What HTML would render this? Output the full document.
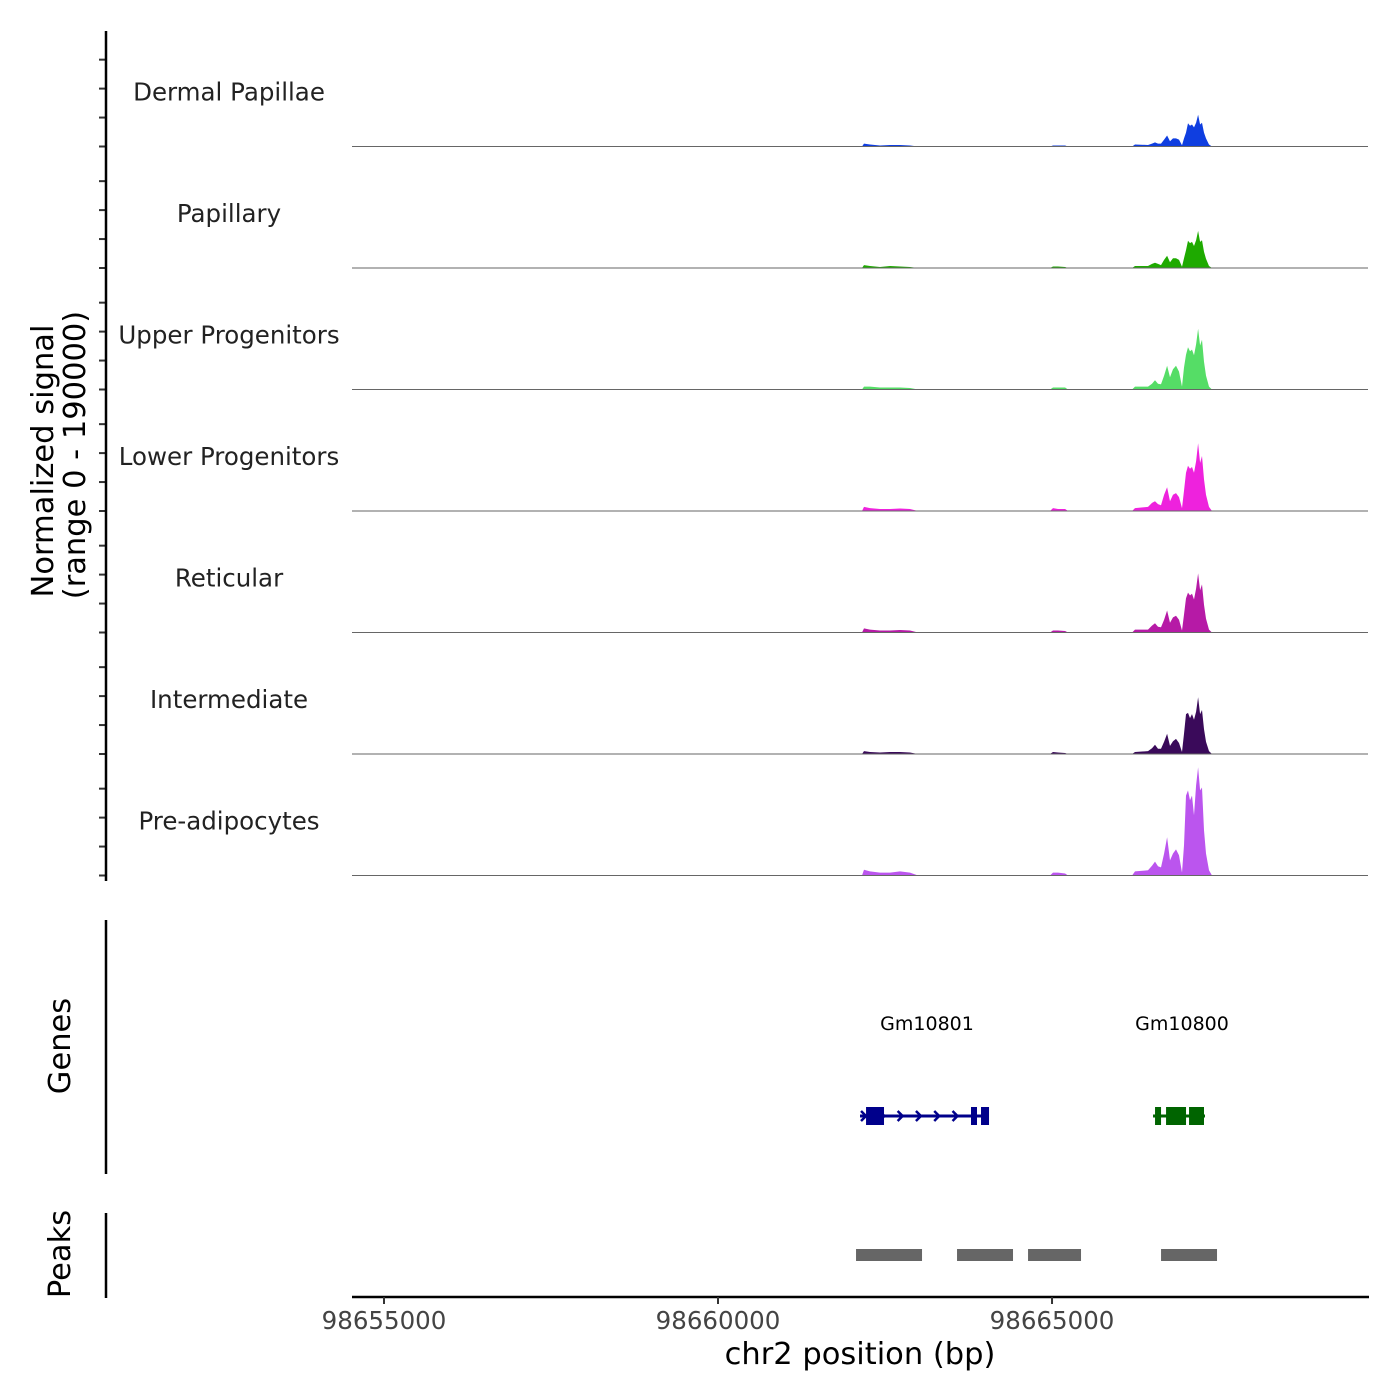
<!DOCTYPE html>
<html><head><meta charset="utf-8">
<style>
html,body{margin:0;padding:0;background:#fff;width:1400px;height:1400px;overflow:hidden}
svg text{font-family:"DejaVu Sans","Liberation Sans",sans-serif}
</style></head>
<body>
<svg id="chart" width="1400" height="1400" viewBox="0 0 1400 1400" xmlns="http://www.w3.org/2000/svg">
<rect width="1400" height="1400" fill="#fff"/>
<g id="tracks"></g>
<g id="axes"></g>
</svg>
<script>
// ---- data ----
const trackNames = ["Dermal Papillae","Papillary","Upper Progenitors","Lower Progenitors","Reticular","Intermediate","Pre-adipocytes"];
const trackColors = ["#0f3ee0","#1eaa00","#55dd66","#ee22dd","#b61aa6","#3a0a5a","#bb55ee"];
const positions = [98662156,98662186,98662275,98662425,98662575,98662725,98662874,98662994,
 98664970,98665015,98665090,98665195,98665239,
 98666198,98666242,98666437,98666497,98666542,98666587,98666632,98666677,98666722,98666766,98666811,98666856,98666901,98666946,98666976,98667006,98667036,98667066,98667096,98667126,98667156,98667186,98667216,98667245,98667275,98667305,98667350,98667395];
// signal values in thousands
const sigDermal = [0,5,3.5,1.7,2.6,2.6,1.7,0, 0,1.7,1.7,1.7,0, 0,3.5,2.6,5,7,5,5,12,19,9,14,14,12,2,14,24,40,36,38,33,41,55,38,41,24,14,3.5,0];
const sigPapillary = [0,5,3.5,1.7,3.5,2.6,1.7,0, 0,2.6,2.6,1.7,0, 0,3.5,3.5,7,9,7,5,14,21,10,17,17,14,2,17,31,47,43,45,38,48,64,45,48,28,16,3.5,0];
const sigUpper = [0,5,5,3.5,3.5,3.5,2.6,0, 0,3.5,3.5,3.5,0, 0,5,5,10,16,10,9,24,41,21,35,41,31,5,38,60,73,66,69,59,78,105,76,86,48,24,5,0];
const sigLower = [0,7,5,3.5,3.5,4.3,3.5,0, 0,5,3.5,3.5,0, 0,5,7,14,17,12,10,28,41,17,28,31,24,5,35,66,78,73,76,66,86,117,83,95,55,28,7,0];
const sigReticular = [0,7,5,3.5,3.5,4.3,3.5,0, 0,3.5,3.5,2.6,0, 0,5,5,12,16,10,9,22,38,17,26,29,22,3.5,31,59,69,64,67,57,76,102,73,83,48,24,5,0];
const sigIntermediate = [0,5,3.5,2.6,3.5,3.5,2.6,0, 0,3.5,2.6,1.7,0, 0,3.5,5,10,16,9,9,21,35,14,22,26,19,3.5,35,69,71,62,69,59,73,98,69,76,43,21,5,0];
const sigPreadip = [0,10,7,5,5,7,5,0, 0,5,5,3.5,0, 0,7,9,17,24,16,14,38,66,26,38,45,35,5,52,138,147,130,138,104,156,187,147,152,78,38,9,0];
const signals = [sigDermal,sigPapillary,sigUpper,sigLower,sigReticular,sigIntermediate,sigPreadip];
const yTicks = [0,50,100,150];
const xTicks = [98655000,98660000,98665000];
const geneNames = ["Gm10801","Gm10800"];
const geneStarts = [98662126,98666512];
const geneEnds = [98664042,98667290];
const geneStrands = ["+","-"];
const geneColors = ["#00008b","#006400"];
const exonGene = [0,0,0,1,1,1];
const exonStarts = [98662216,98663787,98663937,98666542,98666707,98667051];
const exonEnds = [98662485,98663877,98664057,98666632,98667006,98667275];
const peakStarts = [98662066,98663578,98664641,98666632];
const peakEnds = [98663054,98664416,98665434,98667470];

// ---- scales ----
const X0=352, X1=1368, BP0=98654521, BP1=98669730;
const xs = bp => X0 + (bp-BP0)/(BP1-BP0)*(X1-X0);
const TRACK_H = 121.5, BASE0 = 146.5, YMAX = 190, YPX = 110;
const ys = (i,v) => BASE0 + i*TRACK_H - v/YMAX*YPX;
const NS="http://www.w3.org/2000/svg";
const tracksG=document.getElementById('tracks'), axesG=document.getElementById('axes');
function mk(tag,attrs,parent,text){const e=document.createElementNS(NS,tag);for(const k in attrs)e.setAttribute(k,attrs[k]);if(text!==undefined)e.textContent=text;parent.appendChild(e);return e;}

// tracks
signals.forEach((sig,i)=>{
  const g=mk('g',{},tracksG);
  
  
  const base=ys(i,0);
  let d='M'+xs(positions[0]).toFixed(1)+','+base;
  positions.forEach((p,j)=>{d+=' L'+xs(p).toFixed(1)+','+ys(i,sig[j]).toFixed(1);});
  d+=' L'+xs(positions[positions.length-1]).toFixed(1)+','+base+' Z';
  const a=mk('path',{d:d,fill:trackColors[i]},g);
  
  
  const bl=mk('line',{x1:X0,x2:X1,y1:base,y2:base,stroke:'#666','stroke-width':1},g);
  
  
  const t=mk('text',{x:229,y:base-46,'text-anchor':'middle','font-size':24.5,fill:'#222'},g,trackNames[i]);
  
  
  yTicks.forEach(v=>{
    const tk=mk('line',{x1:99,x2:106,y1:ys(i,v),y2:ys(i,v),stroke:'#333','stroke-width':2},axesG);
    
    
  });
});
// y axis
const ya=mk('line',{x1:106,x2:106,y1:31,y2:881,stroke:'#000','stroke-width':2.5},axesG);


const yt=mk('text',{transform:'translate(53,461) rotate(-90)','text-anchor':'middle','font-size':30.5,fill:'#000'},axesG,'Normalized signal');


const yt2=mk('text',{transform:'translate(85,455) rotate(-90)','text-anchor':'middle','font-size':30.5,fill:'#000'},axesG,'(range 0 - 190000)');



// genes panel
const ga=mk('line',{x1:106,x2:106,y1:920,y2:1174,stroke:'#000','stroke-width':2.5},axesG);


const gt=mk('text',{transform:'translate(70,1046) rotate(-90)','text-anchor':'middle','font-size':30.5,fill:'#000'},axesG,'Genes');


const GY=1116;
geneNames.forEach((n,i)=>{
  const g=mk('g',{},axesG);
  
  
  const x1=xs(geneStarts[i]), x2=xs(geneEnds[i]);
  mk('line',{x1:x1,x2:x2,y1:GY,y2:GY,stroke:geneColors[i],'stroke-width':3},g);
  const lbl=mk('text',{x:(x1+x2)/2+3,y:1030,'text-anchor':'middle','font-size':19,fill:'#000'},g,n);
  
  
  if(geneStrands[i]==='+'){
    for(let x=x1+4;x<x2-25;x+=18.3){
      mk('path',{d:`M${x-3},${GY-5} L${x+2},${GY} L${x-3},${GY+5}`,stroke:geneColors[i],'stroke-width':2.5,fill:'none'},g);
    }
  }
});
exonGene.forEach((gi,k)=>{
  const e=mk('rect',{x:xs(exonStarts[k]),y:GY-9,width:xs(exonEnds[k])-xs(exonStarts[k]),height:18,fill:geneColors[gi]},axesG);
  
  
});

// peaks panel
const pa=mk('line',{x1:106,x2:106,y1:1213,y2:1298,stroke:'#000','stroke-width':2.5},axesG);


const pt=mk('text',{transform:'translate(70,1254) rotate(-90)','text-anchor':'middle','font-size':30.5,fill:'#000'},axesG,'Peaks');


peakStarts.forEach((s,k)=>{
  const r=mk('rect',{x:xs(s),y:1249,width:xs(peakEnds[k])-xs(s),height:12,fill:'#666'},axesG);
  
  
});

// x axis
const xa=mk('line',{x1:X0,x2:X1+1,y1:1297,y2:1297,stroke:'#000','stroke-width':2.5},axesG);


xTicks.forEach(v=>{
  const t=mk('line',{x1:xs(v),x2:xs(v),y1:1297,y2:1304,stroke:'#333','stroke-width':2},axesG);
  
  
  const l=mk('text',{x:xs(v),y:1329,'text-anchor':'middle','font-size':24.5,fill:'#444'},axesG,String(v));
  
  
});
const xt=mk('text',{x:860,y:1364,'text-anchor':'middle','font-size':30.5,fill:'#000'},axesG,'chr2 position (bp)');


</script>
</body></html>
